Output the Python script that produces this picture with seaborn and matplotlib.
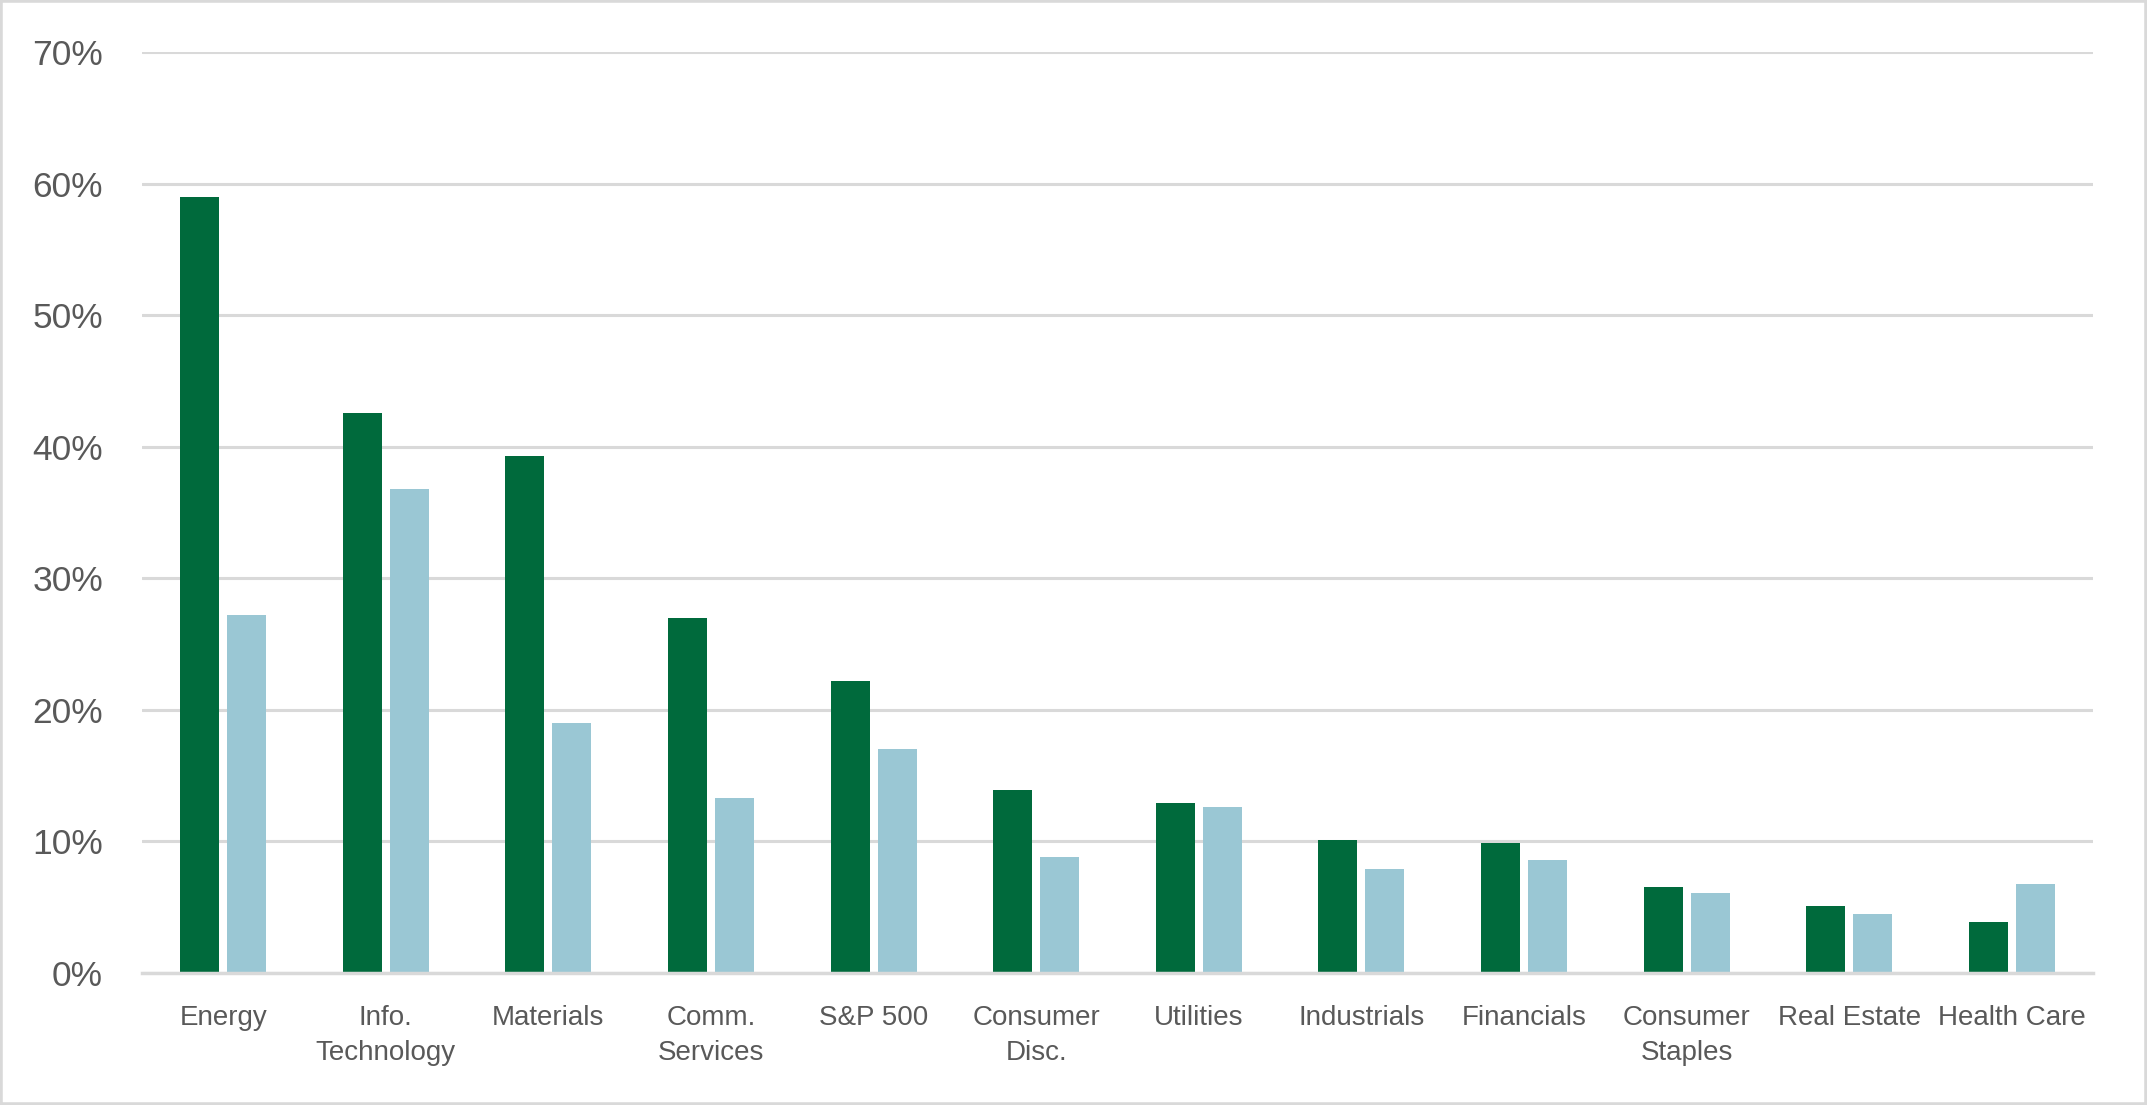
import matplotlib
matplotlib.use("Agg")
import matplotlib.pyplot as plt
from matplotlib.patches import Rectangle
from matplotlib.ticker import PercentFormatter, MultipleLocator
import seaborn as sns
import pandas as pd

# Sectors as shown on the x axis
SECTORS = [
    "Energy", "Info.\nTechnology", "Materials", "Comm.\nServices", "S&P 500",
    "Consumer\nDisc.", "Utilities", "Industrials", "Financials",
    "Consumer\nStaples", "Real Estate", "Health Care",
]

# Values (fractions)
SERIES_1 = [0.590, 0.426, 0.393, 0.270, 0.222, 0.139, 0.129, 0.101, 0.099, 0.065, 0.051, 0.0385]
SERIES_2 = [0.272, 0.368, 0.190, 0.133, 0.170, 0.0885, 0.126, 0.079, 0.086, 0.061, 0.045, 0.0675]

SERIES_NAMES = ["Series 1", "Series 2"]
COLORS = ["#006A3C", "#9AC7D4"]
GRID = "#D9D9D9"
TEXT = "#595959"

df = pd.DataFrame({
    "Sector": SECTORS * 2,
    "Value": SERIES_1 + SERIES_2,
    "Series": [SERIES_NAMES[0]] * len(SECTORS) + [SERIES_NAMES[1]] * len(SECTORS),
})

sns.set_style("white")
plt.rcParams["font.family"] = ["Liberation Sans", "DejaVu Sans"]

fig = plt.figure(figsize=(21.47, 11.05), dpi=100)
ax = fig.add_axes([0.0661, 0.1195, 0.9088, 0.8334])

sns.barplot(data=df, x="Sector", y="Value", hue="Series", order=SECTORS,
            hue_order=SERIES_NAMES, palette=COLORS, saturation=1,
            width=0.578, gap=0.17, linewidth=0, legend=False, ax=ax)

ax.set_ylim(0, 0.70)
ax.set_xlim(-0.5, len(SECTORS) - 0.5)
ax.yaxis.set_major_locator(MultipleLocator(0.10))
ax.yaxis.set_major_formatter(PercentFormatter(1.0, decimals=0))
ax.grid(axis="y", color=GRID, linewidth=2.2)
ax.set_axisbelow(True)
for side in ["top", "right", "left"]:
    ax.spines[side].set_visible(False)
ax.spines["bottom"].set_color(GRID)
ax.spines["bottom"].set_linewidth(2.5)

ax.set_xlabel("")
ax.set_ylabel("")
ax.tick_params(axis="y", length=0, pad=28, labelsize=25.5, labelcolor=TEXT)
ax.tick_params(axis="x", length=0, pad=23, labelsize=20, labelcolor=TEXT)
for lbl in ax.get_xticklabels():
    lbl.set_linespacing(1.45)

# light border around the whole chart
fig.add_artist(Rectangle((0, 0), 1, 1, transform=fig.transFigure, fill=False,
                         edgecolor=GRID, linewidth=4))

fig.savefig("out.png", dpi=100)
plt.close(fig)
